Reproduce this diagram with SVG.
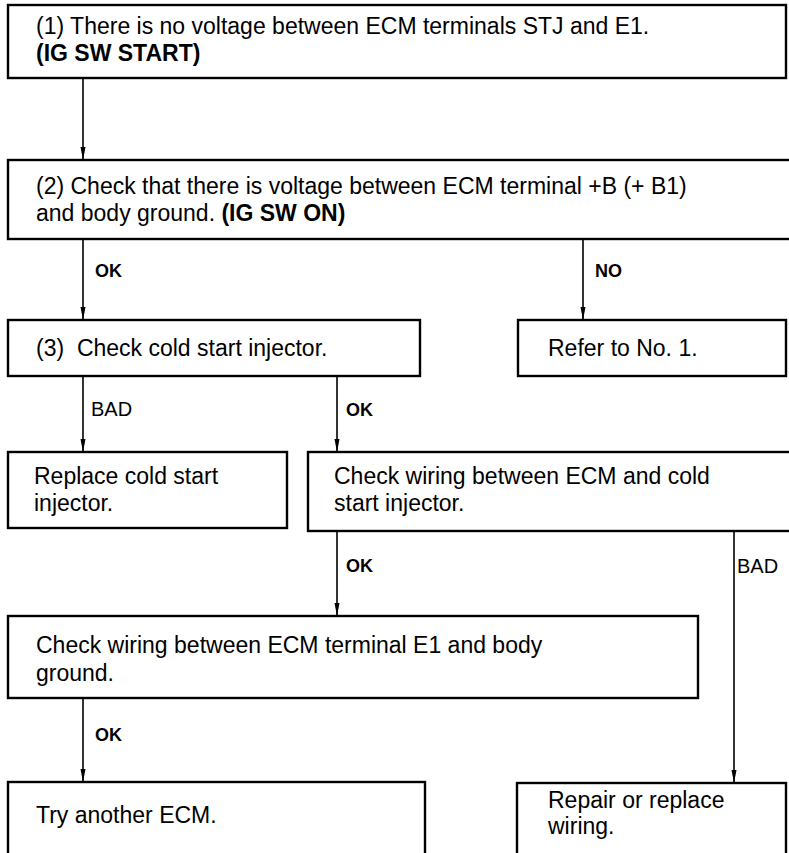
<svg xmlns="http://www.w3.org/2000/svg" width="789" height="853" viewBox="0 0 789 853">
<style>
.box{fill:#fff;stroke:#000;stroke-width:2.4}
.t{font-family:"Liberation Sans",Arial,sans-serif;font-size:23px;fill:#000}
.b{font-weight:bold}
.lbl{font-family:"Liberation Sans",Arial,sans-serif;font-size:18px;font-weight:bold;fill:#000}
.lr{font-family:"Liberation Sans",Arial,sans-serif;font-size:20px;fill:#000}
.c{stroke:#000;stroke-width:1.6;fill:none}
</style>
<defs>
<marker id="ah" markerWidth="14" markerHeight="6" refX="13" refY="3" orient="auto" markerUnits="userSpaceOnUse">
<path d="M0,0.5 L13,3 L0,5.5 Z" fill="#000"/>
</marker>
</defs>
<rect width="789" height="853" fill="#fff"/>
<g id="connectors">
<line class="c" x1="83" y1="78" x2="83" y2="160" marker-end="url(#ah)"/>
<line class="c" x1="83" y1="239" x2="83" y2="320" marker-end="url(#ah)"/>
<line class="c" x1="583" y1="239" x2="583" y2="320" marker-end="url(#ah)"/>
<line class="c" x1="83" y1="376" x2="83" y2="452" marker-end="url(#ah)"/>
<line class="c" x1="337" y1="376" x2="337" y2="452" marker-end="url(#ah)"/>
<line class="c" x1="337" y1="531" x2="337" y2="616" marker-end="url(#ah)"/>
<line class="c" x1="734" y1="531" x2="734" y2="783" marker-end="url(#ah)"/>
<line class="c" x1="83" y1="698" x2="83" y2="782" marker-end="url(#ah)"/>
<text class="lbl" x="95" y="277">OK</text>
<text class="lbl" x="595" y="277">NO</text>
<text class="lr" x="91" y="416">BAD</text>
<text class="lbl" x="346" y="416">OK</text>
<text class="lbl" x="346" y="572">OK</text>
<text class="lr" x="737" y="573">BAD</text>
<text class="lbl" x="95" y="741">OK</text>
</g>
<g id="n1">
<rect class="box" x="8" y="5" width="778" height="73"/>
<text class="t" x="36" y="34">(1) There is no voltage between ECM terminals STJ and E1.</text>
<text class="t b" x="36" y="61">(IG SW START)</text>
</g>
<g id="n2">
<rect class="box" x="8" y="160" width="790" height="79"/>
<text class="t" x="36" y="194">(2) Check that there is voltage between ECM terminal +B (+ B1)</text>
<text class="t" x="36" y="221">and body ground. <tspan class="b">(IG SW ON)</tspan></text>
</g>
<g id="n3">
<rect class="box" x="8" y="320" width="412" height="56"/>
<text class="t" x="36" y="356">(3)&#160; Check cold start injector.</text>
</g>
<g id="n4">
<rect class="box" x="518" y="320" width="268" height="56"/>
<text class="t" x="548" y="356">Refer to No. 1.</text>
</g>
<g id="n5">
<rect class="box" x="8" y="452" width="279" height="76"/>
<text class="t" x="34" y="484">Replace cold start</text>
<text class="t" x="34" y="511">injector.</text>
</g>
<g id="n6">
<rect class="box" x="308" y="452" width="490" height="79"/>
<text class="t" x="334" y="484">Check wiring between ECM and cold</text>
<text class="t" x="334" y="511">start injector.</text>
</g>
<g id="n7">
<rect class="box" x="8" y="616" width="690" height="82"/>
<text class="t" x="36" y="653">Check wiring between ECM terminal E1 and body</text>
<text class="t" x="36" y="681">ground.</text>
</g>
<g id="n8">
<rect class="box" x="8" y="782" width="417" height="90"/>
<text class="t" x="36" y="823">Try another ECM.</text>
</g>
<g id="n9">
<rect class="box" x="517" y="783" width="269" height="90"/>
<text class="t" x="548" y="808">Repair or replace</text>
<text class="t" x="548" y="834">wiring.</text>
</g>
</svg>
